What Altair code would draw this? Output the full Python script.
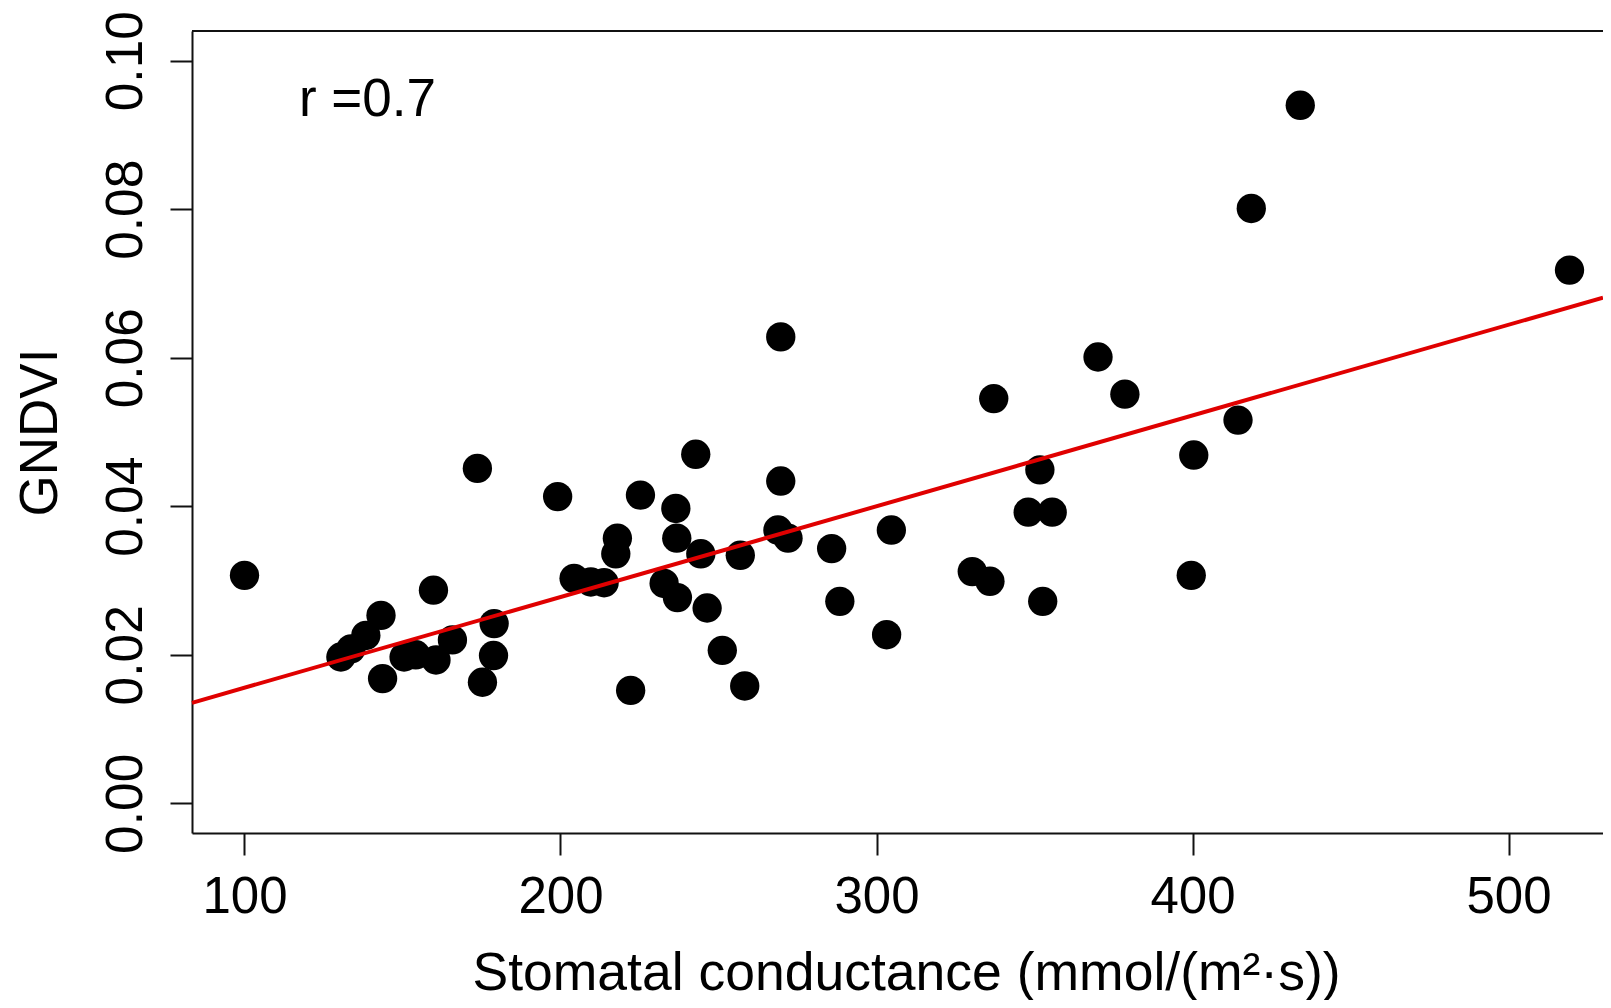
import altair as alt
import pandas as pd

# ---- data ----
conductance = [100.0, 130.5, 133.7, 138.4, 143.2, 143.7, 150.5, 154.2, 159.8, 160.6,
               165.8, 175.3, 173.7, 178.8, 179.0, 199.1, 204.3, 209.6, 213.8, 217.5,
               218.0, 222.2, 225.3, 232.8, 236.5, 236.8, 237.0, 242.8, 244.4, 246.4,
               251.2, 256.9, 258.3, 268.8, 269.7, 269.7, 272.0, 285.8, 288.4, 303.2,
               304.7, 330.3, 335.9, 337.1, 348.0, 351.7, 352.6, 355.6, 370.1, 378.6,
               399.6, 400.4, 414.4, 418.6, 434.1, 519.3]
gndvi = [0.0307, 0.0197, 0.0208, 0.0226, 0.0253, 0.0168, 0.0197, 0.0200, 0.0287, 0.0193,
         0.0220, 0.0163, 0.0451, 0.0199, 0.0242, 0.0413, 0.0303, 0.0298, 0.0297, 0.0336,
         0.0357, 0.0152, 0.0415, 0.0296, 0.0397, 0.0357, 0.0277, 0.0470, 0.0336, 0.0263,
         0.0206, 0.0334, 0.0158, 0.0368, 0.0434, 0.0628, 0.0357, 0.0343, 0.0272, 0.0227,
         0.0368, 0.0312, 0.0299, 0.0545, 0.0392, 0.0449, 0.0272, 0.0392, 0.0601, 0.0551,
         0.0307, 0.0469, 0.0516, 0.0801, 0.0940, 0.0718]
x_ticks = [100, 200, 300, 400, 500]
y_ticks = [0.00, 0.02, 0.04, 0.06, 0.08, 0.10]
x_domain = [83.39, 529.9]
y_domain = [-0.004, 0.104]
fit_intercept = 0.00334
fit_slope = 0.0001222
r_label = "r =0.7"
r_pos_x = [138.9]
r_pos_y = [0.0925]

W, H = 1411, 802
FONT = "Liberation Sans"

pts = pd.DataFrame({"x": conductance, "y": gndvi})
fit = pd.DataFrame({"x": x_domain,
                    "y": [fit_intercept + fit_slope * v for v in x_domain]})
ann = pd.DataFrame({"x": r_pos_x, "y": r_pos_y, "t": [r_label]})
one = pd.DataFrame({"x": [x_domain[0]], "y": [y_domain[1]]})

xs = alt.Scale(domain=x_domain, nice=False, zero=False)
ys = alt.Scale(domain=y_domain, nice=False, zero=False)

x_axis = alt.Axis(values=x_ticks, format="d", grid=False,
                  tickSize=22, tickWidth=2, tickColor="#111",
                  domainColor="#111", domainWidth=2,
                  labelFont=FONT, labelFontSize=51, labelColor="#000",
                  labelPadding=57, labelBaseline="alphabetic", labelAlign="center",
                  labelOverlap=False, labelFlush=False,
                  title="Stomatal conductance (mmol/(m²·s))",
                  titleFont=FONT, titleFontSize=53.5, titleFontWeight="normal",
                  titleColor="#000", titleX=714, titleY=156,
                  titleAlign="center", titleBaseline="alphabetic")
y_axis = alt.Axis(values=y_ticks, format=".2f", grid=False,
                  tickSize=22, tickWidth=2, tickColor="#111",
                  domainColor="#111", domainWidth=2,
                  labelFont=FONT, labelFontSize=51.5, labelColor="#000",
                  labelAngle=270, labelPadding=29, labelBaseline="alphabetic",
                  labelAlign="center", labelOverlap=False, labelFlush=False,
                  title="GNDVI", titleFont=FONT, titleFontSize=53,
                  titleFontWeight="normal", titleColor="#000",
                  titleAngle=270, titleX=-136, titleY=401,
                  titleAlign="center", titleBaseline="alphabetic")

X = alt.X("x:Q", scale=xs, axis=x_axis)
Y = alt.Y("y:Q", scale=ys, axis=y_axis)

points = alt.Chart(pts).mark_circle(size=860, color="#000", opacity=1).encode(x=X, y=Y)
line = alt.Chart(fit).mark_line(color="#e00000", strokeWidth=4).encode(x=X, y=Y)
text = alt.Chart(ann).mark_text(font=FONT, fontSize=53, align="center",
                                baseline="alphabetic", color="#000").encode(
    x=X, y=Y, text="t:N")
top = alt.Chart(one).mark_rule(color="#111", strokeWidth=2).encode(
    x=alt.value(0), x2=alt.value(W), y=alt.value(0))

chart = alt.layer(points, line, text, top).properties(
    width=W, height=H,
    padding={"left": 184, "top": 23, "right": 0, "bottom": 167},
    autosize=alt.AutoSizeParams(type="none"),
    background="white",
).configure_view(stroke="transparent")

chart.save("out.html", embed_options={"renderer": "svg", "actions": False})
